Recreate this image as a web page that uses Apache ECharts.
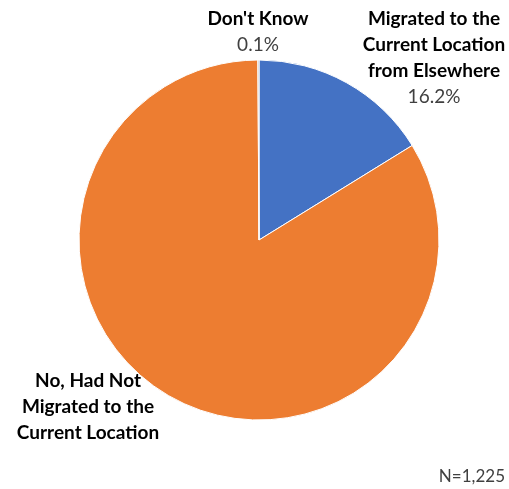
<!DOCTYPE html>
<html>
<head>
<meta charset="utf-8">
<script src="https://cdn.jsdelivr.net/npm/echarts@6/dist/echarts.min.js"></script>
<style>
  html, body { margin: 0; padding: 0; background: #fff; }
  #chart { width: 509px; height: 489px; }
</style>
</head>
<body>
<div id="chart"></div>
<script>
// Migration status shares (percent of respondents)
const categories = [
  'Migrated to the\nCurrent Location\nfrom Elsewhere',
  'No, Had Not\nMigrated to the\nCurrent Location',
  "Don't Know"
];
const shares = [16.2, 83.7, 0.1];
const shareLabels = ['16.2%', '', '0.1%'];
const colors = ['#4472C4', '#ED7D31', '#A5A5A5'];
const sampleNote = 'N=1,225';

// Label anchor points (pixel positions in the canvas)
const labelAnchors = [
  { x: 434, y: 6 },
  { x: 88, y: 368 },
  { x: 258, y: 6 }
];

const chart = echarts.init(document.getElementById('chart'), null, { renderer: 'canvas' });

const data = categories.map((name, i) => ({
  name: name,
  value: shares[i],
  itemStyle: { color: colors[i] },
  label: {
    formatter: shareLabels[i] ? '{b|{b}}\n{p|' + shareLabels[i] + '}' : '{b|{b}}'
  }
}));

chart.setOption({
  animation: false,
  backgroundColor: '#fff',
  series: [{
    type: 'pie',
    center: [259, 240],
    radius: [0, 180],
    startAngle: 90,
    clockwise: true,
    data: data,
    itemStyle: { borderColor: '#fff', borderWidth: 1 },
    label: {
      show: true,
      position: 'outside',
      align: 'center',
      overflow: 'none',
      width: 200,
      lineHeight: 26,
      rich: {
        b: { fontFamily: 'Lato', fontWeight: 'bold', fontSize: 19, color: '#000', lineHeight: 26, align: 'center' },
        p: { fontFamily: 'Lato', fontSize: 19, color: '#404040', lineHeight: 26, align: 'center' }
      }
    },
    labelLine: { show: false },
    labelLayout: function (params) {
      const a = labelAnchors[params.dataIndex];
      return { x: a.x, y: a.y, align: 'center', verticalAlign: 'top' };
    }
  }],
  graphic: [{
    type: 'text',
    right: 4,
    top: 468,
    style: { text: sampleNote, fontFamily: 'Lato', fontSize: 17, fill: '#404040' }
  }]
});
</script>
</body>
</html>
